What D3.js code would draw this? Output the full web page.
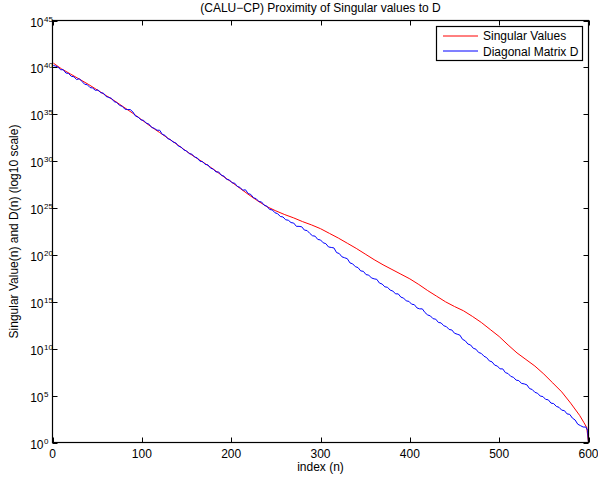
<!DOCTYPE html>
<html><head><meta charset="utf-8">
<script src="https://cdn.jsdelivr.net/npm/d3@7"></script>
<style>body{margin:0;background:#fff}text{font-family:"Liberation Sans",Arial,Helvetica,sans-serif;fill:#000}</style>
</head><body><svg id="c" width="598" height="478"></svg>
<script>
// ---- data (log10 of values) ----
const redIdx = [1].concat(d3.range(10, 600, 10), [595, 598, 600]);
const redLog = [40.45,39.85,39.3,38.75,38.2,37.6,37.0,36.4,35.75,35.1,
  34.4,33.7,33.05,32.4,31.75,31.05,30.4,29.8,29.15,28.45,
  27.8,27.1,26.4,25.75,25.15,24.7,24.3,23.95,23.55,23.2,
  22.8,22.3,21.8,21.25,20.7,20.1,19.5,18.95,18.45,17.95,
  17.45,16.85,16.2,15.6,15.0,14.5,14.05,13.45,12.8,12.05,
  11.3,10.4,9.55,8.85,8.15,7.3,6.35,5.4,4.2,2.9,
  2.1,1.6,0.0];
const blueIdx = [1].concat(d3.range(3, 598, 3), [599, 600]);
const blueLog = [40.2,
  40.15,40.05,39.75,39.75,39.4,39.35,39.05,39.0,38.7,38.8,38.5,38.2,38.15,37.85,37.8,37.55,
  37.6,37.3,37.25,36.9,36.8,36.7,36.35,36.25,35.95,35.85,35.55,35.5,35.5,35.25,34.8,34.7,34.4,
  34.35,34.05,33.95,33.6,33.5,33.3,33.3,32.85,32.75,32.4,32.3,32.05,31.95,31.6,31.5,31.2,31.1,
  30.8,30.75,30.45,30.35,30.0,29.95,29.65,29.6,29.25,29.15,28.85,28.85,28.5,28.4,28.05,28.0,
  27.7,27.65,27.3,27.2,26.9,26.95,26.55,26.45,26.1,26.0,25.7,25.65,25.3,25.2,24.85,24.8,24.5,
  24.4,24.1,24.05,23.75,23.7,23.45,23.4,23.05,23.05,23.0,22.65,22.6,22.3,22.05,22.0,21.65,21.6,
  21.3,21.2,20.85,20.8,20.75,20.25,20.15,19.8,19.7,19.6,19.15,19.05,18.75,18.65,18.3,18.25,
  17.9,17.85,17.55,17.45,17.4,17.0,16.9,16.6,16.55,16.25,16.15,15.85,15.85,15.5,15.4,15.1,15.05,
  14.75,14.7,14.35,14.25,14.25,13.85,13.6,13.5,13.2,13.15,12.8,12.75,12.45,12.35,12.05,12.0,11.65,
  11.55,11.45,11.0,10.85,10.5,10.4,10.05,9.95,9.6,9.5,9.2,9.05,8.7,8.6,8.25,8.15,
  7.85,7.85,7.45,7.35,7.05,6.95,6.65,6.6,6.3,6.25,6.15,5.75,5.65,5.35,5.25,4.95,4.9,
  4.6,4.55,4.2,4.15,3.85,3.75,3.45,3.4,3.05,3.0,
  2.6,2.4,1.95,1.8,1.65,1.65,
  1.3,0.0];
const xTicks = [0,100,200,300,400,500,600];
const yTickExps = [0,5,10,15,20,25,30,35,40,45];
const seriesNames = ["Singular Values","Diagonal Matrix D"];
const seriesColors = ["#ff0000","#0000ff"];
const titleText = "(CALU\u2212CP) Proximity of Singular values to D";
const xLabel = "index (n)";
const yLabel = "Singular Value(n) and D(n) (log10 scale)";

// ---- layout ----
const L = 52.5, R = 588.5, T = 20.5, B = 442.5;
const svg = d3.select("#c");
const x = d3.scaleLinear().domain([0, 600]).range([L, R]);
const y = d3.scaleLog().domain([1, 1e45]).range([B, T]);

svg.append("rect").attr("width",598).attr("height",478).attr("fill","#fff");
svg.append("clipPath").attr("id","clip").append("rect")
  .attr("x",L).attr("y",T).attr("width",R-L).attr("height",B-T);

const line = d3.line().x(d => x(d[0])).y(d => y(Math.pow(10, d[1])));
const red = redIdx.map((v,i) => [v, redLog[i]]);
const blue = blueIdx.map((v,i) => [v, blueLog[i]]);
const g = svg.append("g").attr("clip-path","url(#clip)");
g.append("path").datum(red).attr("d",line).attr("fill","none").style("stroke",seriesColors[0]).attr("stroke-width",1);
g.append("path").datum(blue).attr("d",line).attr("fill","none").style("stroke",seriesColors[1]).attr("stroke-width",1);

// axes box
svg.append("rect").attr("x",L).attr("y",T).attr("width",R-L).attr("height",B-T)
  .attr("fill","none").attr("stroke","#000").attr("stroke-width",1.2);
const tk = 5;
xTicks.forEach(t => {
  const px = Math.round(x(t)) + 0.5;
  svg.append("line").attr("x1",px).attr("x2",px).attr("y1",B).attr("y2",B-tk).attr("stroke","#000");
  svg.append("line").attr("x1",px).attr("x2",px).attr("y1",T).attr("y2",T+tk).attr("stroke","#000");
  svg.append("text").attr("x",x(t)).attr("y",458).attr("text-anchor","middle").attr("font-size",12).text(t);
});
yTickExps.forEach(e => {
  const py = Math.round(y(Math.pow(10,e))) + 0.5;
  svg.append("line").attr("x1",L).attr("x2",L+tk).attr("y1",py).attr("y2",py).attr("stroke","#000");
  svg.append("line").attr("x1",R).attr("x2",R-tk).attr("y1",py).attr("y2",py).attr("stroke","#000");
  svg.append("text").attr("x",43.5).attr("y",y(Math.pow(10,e))+6).attr("text-anchor","end").attr("font-size",12).text("10");
  svg.append("text").attr("x",44).attr("y",y(Math.pow(10,e))+1).attr("font-size",8).text(e);
});

// title and labels
svg.append("text").attr("x",(L+R)/2).attr("y",12).attr("text-anchor","middle").attr("font-size",12).text(titleText);
svg.append("text").attr("x",(L+R)/2).attr("y",471).attr("text-anchor","middle").attr("font-size",12).text(xLabel);
svg.append("text").attr("transform",`translate(18,${(T+B)/2}) rotate(-90)`).attr("text-anchor","middle").attr("font-size",12).text(yLabel);

// legend
const lg = svg.append("g");
lg.append("rect").attr("x",436.5).attr("y",26.5).attr("width",146).attr("height",34)
  .attr("fill","#fff").attr("stroke","#000").attr("stroke-width",1.2);
seriesNames.forEach((n,i) => {
  const ly = 36 + i*15;
  lg.append("line").attr("x1",443).attr("x2",478).attr("y1",ly).attr("y2",ly)
    .style("stroke",seriesColors[i]).style("stroke-width","1px");
  lg.append("text").attr("x",483).attr("y",39.5 + i*16).attr("font-size",12).text(n);
});
</script></body></html>
